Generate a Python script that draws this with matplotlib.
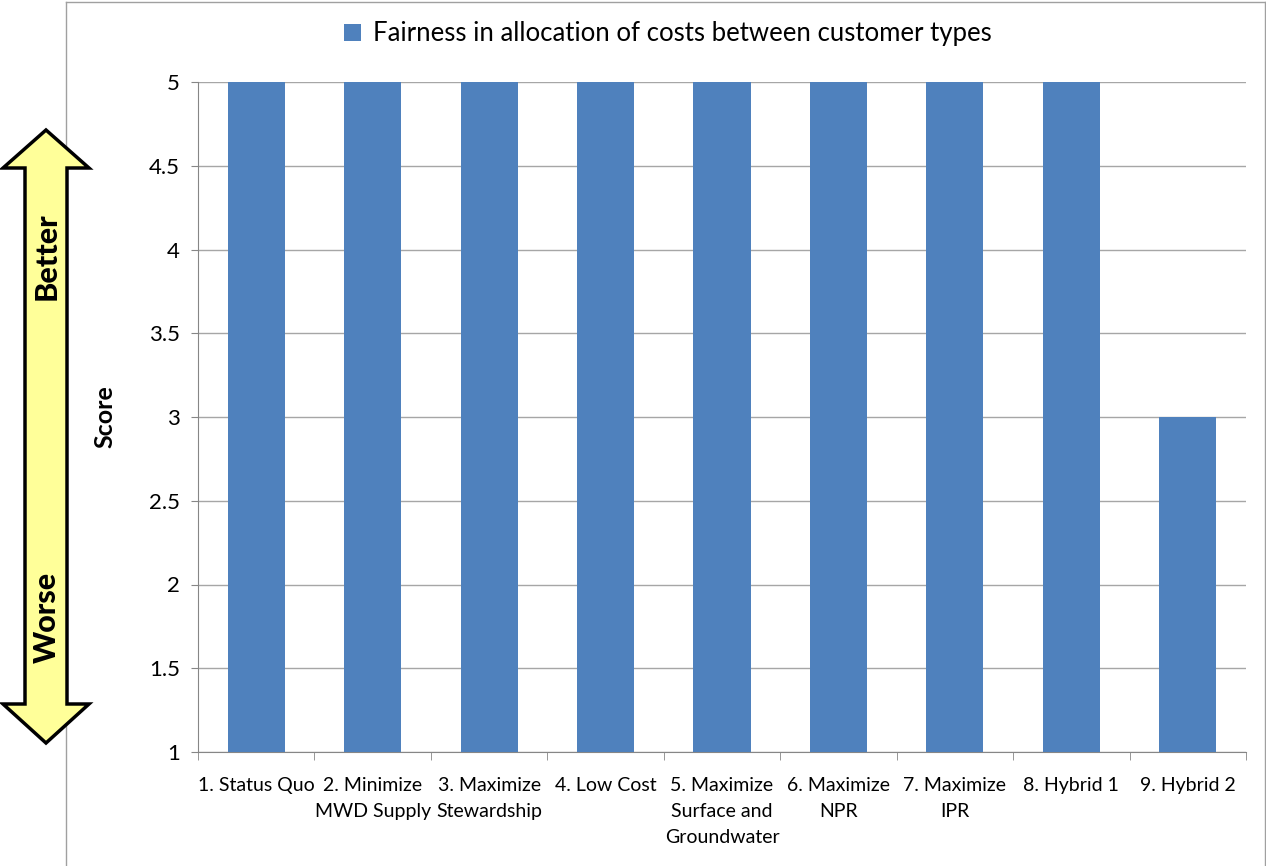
import numpy as np
import matplotlib.pyplot as plt
from matplotlib.patches import Polygon
from matplotlib.lines import Line2D

plt.rcParams['font.family'] = ['Lato', 'DejaVu Sans']

categories = ['1. Status Quo', '2. Minimize\nMWD Supply', '3. Maximize\nStewardship',
              '4. Low Cost', '5. Maximize\nSurface and\nGroundwater', '6. Maximize\nNPR',
              '7. Maximize\nIPR', '8. Hybrid 1', '9. Hybrid 2']
scores = [5, 5, 5, 5, 5, 5, 5, 5, 3]
series_name = 'Fairness in allocation of costs between customer types'
yticks = [1, 1.5, 2, 2.5, 3, 3.5, 4, 4.5, 5]
ytick_labels = ['1', '1.5', '2', '2.5', '3', '3.5', '4', '4.5', '5']

W, H = 1266, 866
fig = plt.figure(figsize=(W / 100, H / 100), dpi=100)
ax = fig.add_axes([198 / W, 1 - 752 / H, (1246 - 198) / W, (752 - 82) / H])

x = np.arange(len(categories))
ax.bar(x, scores, width=0.49, color='#4F81BD', label=series_name, zorder=3)

ax.set_xlim(-0.5, len(categories) - 0.5)
ax.set_ylim(1, 5)
ax.set_yticks(yticks)
ax.set_yticklabels(ytick_labels, fontsize=16)
ax.set_xticks(x)
ax.set_xticklabels(categories, fontsize=14, linespacing=1.65)
ax.tick_params(axis='x', length=0, pad=18)
ax.set_xticks(np.arange(len(categories) + 1) - 0.5, minor=True)
ax.tick_params(axis='x', which='minor', length=6, color='#868686', direction='out')
ax.tick_params(axis='y', length=5, color='#868686', pad=8)
ax.grid(axis='y', color='#A6A6A6', linewidth=1, zorder=0)

for side in ['top', 'right']:
    ax.spines[side].set_visible(False)
for side in ['left', 'bottom']:
    ax.spines[side].set_color('#868686')

ax.set_ylabel('Score', fontsize=18, fontweight='bold')
ax.yaxis.set_label_coords(-0.078, 0.5)

fig.legend(loc='center', bbox_to_anchor=(668 / W, 1 - 34 / H), frameon=False,
           fontsize=18.5, handlelength=0.65, handleheight=0.65, handletextpad=0.5)

# outer chart border
fig.add_artist(Line2D([66 / W, 66 / W], [0, 1 - 2 / H], color='#A0A0A0', lw=1))
fig.add_artist(Line2D([66 / W, 1265 / W], [1 - 2 / H, 1 - 2 / H], color='#A0A0A0', lw=1))
fig.add_artist(Line2D([1265 / W, 1265 / W], [0, 1 - 2 / H], color='#A0A0A0', lw=1))

# double-headed "Better / Worse" arrow
pts = [(46, 130), (89, 168), (67, 168), (67, 704), (89, 704), (46, 743),
       (3, 704), (25, 704), (25, 168), (3, 168)]
arrow = Polygon([(px / W, 1 - py / H) for px, py in pts], closed=True,
                facecolor='#FFFF99', edgecolor='black', linewidth=2.5,
                transform=fig.transFigure, zorder=5)
fig.add_artist(arrow)
fig.text(47 / W, 1 - 256 / H, 'Better', rotation=90, ha='center', va='center',
         fontsize=22, fontweight='black', zorder=6)
fig.text(47 / W, 1 - 617 / H, 'Worse', rotation=90, ha='center', va='center',
         fontsize=22, fontweight='black', zorder=6)

fig.savefig('out.png', dpi=100)
